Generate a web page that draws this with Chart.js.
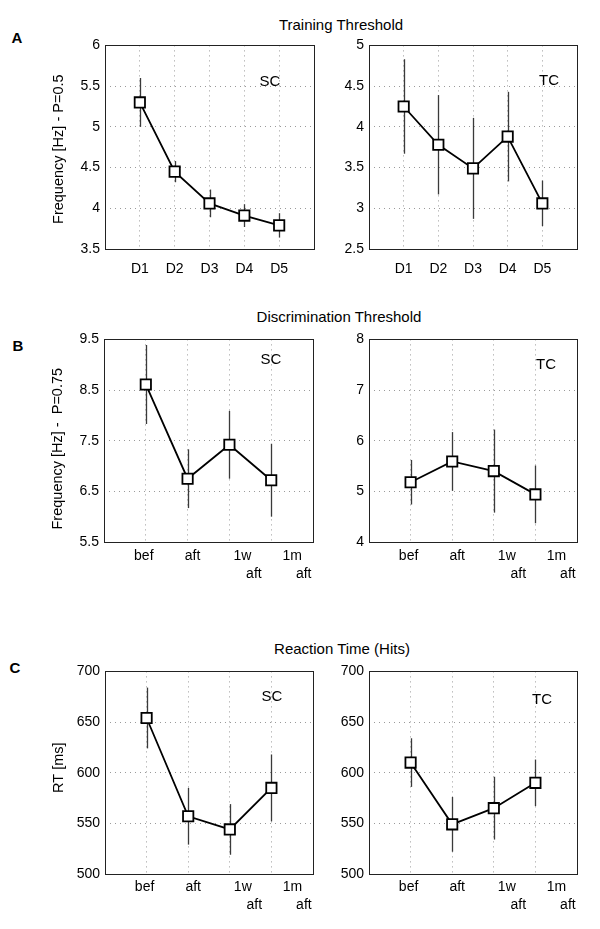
<!DOCTYPE html>
<html>
<head>
<meta charset="utf-8">
<script src="https://cdn.jsdelivr.net/npm/chart.js@4.4.0/dist/chart.umd.min.js"></script>
<style>
body { margin: 0; background: #fff; width: 600px; height: 929px; position: relative; overflow: hidden;
       font-family: 'Liberation Sans', Arial, sans-serif; }
canvas { position: absolute; }
.head { position: absolute; font-size: 15px; color: #000; transform: translate(-50%, -50%); white-space: nowrap; }
.letter { position: absolute; font-size: 15px; font-weight: bold; color: #000; transform: translate(-50%, -50%); }
</style>
</head>
<body>
<div class="head" style="left:341px;top:24px">Training Threshold</div>
<div class="head" style="left:339px;top:316px">Discrimination Threshold</div>
<div class="head" style="left:342px;top:648px">Reaction Time (Hits)</div>
<div class="letter" style="left:17px;top:37px">A</div>
<div class="letter" style="left:18px;top:345px">B</div>
<div class="letter" style="left:15px;top:667px">C</div>

<script>
// categories
const days = ["D1", "D2", "D3", "D4", "D5"];
const sessions = [["bef"], ["aft"], ["1w", "aft"], ["1m", "aft"]];

// training threshold (Hz, P=0.5)
const trainSC = [5.30, 4.45, 4.06, 3.91, 3.79];
const trainSCErr = [0.30, 0.13, 0.17, 0.14, 0.15];
const trainTC = [4.25, 3.78, 3.49, 3.88, 3.06];
const trainTCErr = [0.58, 0.61, 0.62, 0.55, 0.28];

// discrimination threshold (Hz, P=0.75)
const discSC = [8.61, 6.75, 7.42, 6.72];
const discSCErr = [0.78, 0.58, 0.67, 0.72];
const discTC = [5.18, 5.59, 5.40, 4.94];
const discTCErr = [0.44, 0.58, 0.82, 0.57];

// reaction time (ms)
const rtSC = [654, 557, 544, 585];
const rtSCErr = [30, 28, 25, 33];
const rtTC = [610, 549, 565, 590];
const rtTCErr = [24, 27, 31, 23];

// y axes: min, max, step
const trainSCAxis = [3.5, 6, 0.5];
const trainTCAxis = [2.5, 5, 0.5];
const discSCAxis = [5.5, 9.5, 1];
const discTCAxis = [4, 8, 1];
const rtAxis = [500, 700, 50];

const FONT = "'Liberation Sans', Arial, sans-serif";
Chart.defaults.font.family = FONT;
Chart.defaults.color = "#000";

const panelDeco = {
	id: "panelDeco",
	beforeDatasetsDraw(chart) {
		const { ctx, scales: { x, y } } = chart;
		const ds = chart.data.datasets[0];
		ctx.save();
		ctx.strokeStyle = "#3a3a3a";
		ctx.lineWidth = 1.3;
		ds.data.forEach((p, i) => {
			const e = ds.errors[i];
			const px = Math.round(x.getPixelForValue(p.x)) + 0.5;
			ctx.beginPath();
			ctx.moveTo(px, y.getPixelForValue(p.y + e));
			ctx.lineTo(px, y.getPixelForValue(p.y - e));
			ctx.stroke();
		});
		ctx.restore();
	},
	afterDraw(chart, args, o) {
		const { ctx, chartArea: a, scales: { x } } = chart;
		ctx.save();
		ctx.strokeStyle = "#222";
		ctx.lineWidth = 1;
		ctx.strokeRect(Math.round(a.left) + 0.5, Math.round(a.top) + 0.5, Math.round(a.width), Math.round(a.height));

		ctx.fillStyle = "#000";
		ctx.font = "14px " + FONT;
		ctx.textAlign = "center";
		ctx.textBaseline = "middle";
		o.labels.forEach((lab, i) => {
			const lines = Array.isArray(lab) ? lab : [lab];
			lines.forEach((t, k) => {
				ctx.fillText(t, x.getPixelForValue(i + 1) + o.shift[i] + k * o.line2Shift, a.bottom + o.labelY + k * 18);
			});
		});

		ctx.font = "15px " + FONT;
		ctx.fillText(o.tag, a.left + o.tagPos[0], a.top + o.tagPos[1]);

		if (o.yTitle) {
			ctx.font = "14.5px " + FONT;
			ctx.translate(a.left - 46, (a.top + a.bottom) / 2 + o.yTitleShift);
			ctx.rotate(-Math.PI / 2);
			ctx.fillText(o.yTitle, 0, 0);
		}
		ctx.restore();
	},
};

function makePanel(box, values, errors, axis, deco) {
	const padL = 60, padT = 12, padR = 15, axW = 45, axH = 40, padB = 10;
	const w = box.right - box.left;
	const h = box.bottom - box.top;
	const canvas = document.createElement("canvas");
	canvas.width = w + padL + axW + padR;
	canvas.height = h + padT + axH + padB;
	canvas.style.left = (box.left - padL - axW) + "px";
	canvas.style.top = (box.top - padT) + "px";
	document.body.appendChild(canvas);

	new Chart(canvas.getContext("2d"), {
		type: "scatter",
		data: {
			datasets: [
				{
					data: values.map((v, i) => ({ x: i + 1, y: v })),
					errors: errors,
					showLine: true,
					borderColor: "#000",
					borderWidth: 1.8,
					pointStyle: "rect",
					pointRadius: 7.3,
					pointHoverRadius: 7.3,
					pointBackgroundColor: "#fff",
					pointBorderColor: "#000",
					pointBorderWidth: 1.8,
				},
			],
		},
		options: {
			responsive: false,
			maintainAspectRatio: false,
			animation: false,
			layout: { padding: { left: padL, top: padT, right: padR, bottom: padB } },
			scales: {
				x: {
					type: "linear",
					min: 0,
					max: deco.xMax,
					ticks: { stepSize: 1, display: false },
					grid: { color: "#9a9a9a", drawTicks: false, lineWidth: 1 },
					border: { display: false, dash: [1, 4] },
					afterFit: (s) => { s.height = axH; },
				},
				y: {
					min: axis[0],
					max: axis[1],
					ticks: {
						stepSize: axis[2],
						padding: 5,
						font: { size: 14 },
						color: "#000",
						callback: (v) => String(Number(v.toFixed(2))),
					},
					grid: { color: "#9a9a9a", drawTicks: false, lineWidth: 1 },
					border: { display: false, dash: [1, 4] },
					afterFit: (s) => { s.width = axW; },
				},
			},
			plugins: {
				legend: { display: false },
				tooltip: { enabled: false },
				panelDeco: deco,
			},
		},
		plugins: [panelDeco],
	});
}

const dayShift = [0, 0, 0, 0, 0];
const sessShift = [-2, 5, 13, 21];

makePanel({ left: 105, top: 44, right: 314, bottom: 249 }, trainSC, trainSCErr, trainSCAxis,
	{ xMax: 6, labels: days, shift: dayShift, line2Shift: 0, labelY: 20, tag: "SC", tagPos: [165, 36],
	  yTitle: "Frequency [Hz] - P=0.5", yTitleShift: 2 });
makePanel({ left: 369, top: 44, right: 577, bottom: 249 }, trainTC, trainTCErr, trainTCAxis,
	{ xMax: 6, labels: days, shift: dayShift, line2Shift: 0, labelY: 20, tag: "TC", tagPos: [180, 35] });

makePanel({ left: 104, top: 338, right: 313, bottom: 542 }, discSC, discSCErr, discSCAxis,
	{ xMax: 5, labels: sessions, shift: sessShift, line2Shift: 11.5, labelY: 14, tag: "SC", tagPos: [167, 20],
	  yTitle: "Frequency [Hz] -  P=0.75", yTitleShift: 8 });
makePanel({ left: 369, top: 338, right: 577, bottom: 542 }, discTC, discTCErr, discTCAxis,
	{ xMax: 5, labels: sessions, shift: sessShift, line2Shift: 11.5, labelY: 14, tag: "TC", tagPos: [177, 25] });

makePanel({ left: 105, top: 670, right: 313, bottom: 874 }, rtSC, rtSCErr, rtAxis,
	{ xMax: 5, labels: sessions, shift: sessShift, line2Shift: 11.5, labelY: 13, tag: "SC", tagPos: [167, 25],
	  yTitle: "RT [ms]", yTitleShift: -5 });
makePanel({ left: 369, top: 670, right: 577, bottom: 874 }, rtTC, rtTCErr, rtAxis,
	{ xMax: 5, labels: sessions, shift: sessShift, line2Shift: 11.5, labelY: 13, tag: "TC", tagPos: [173, 28] });
</script>
</body>
</html>
